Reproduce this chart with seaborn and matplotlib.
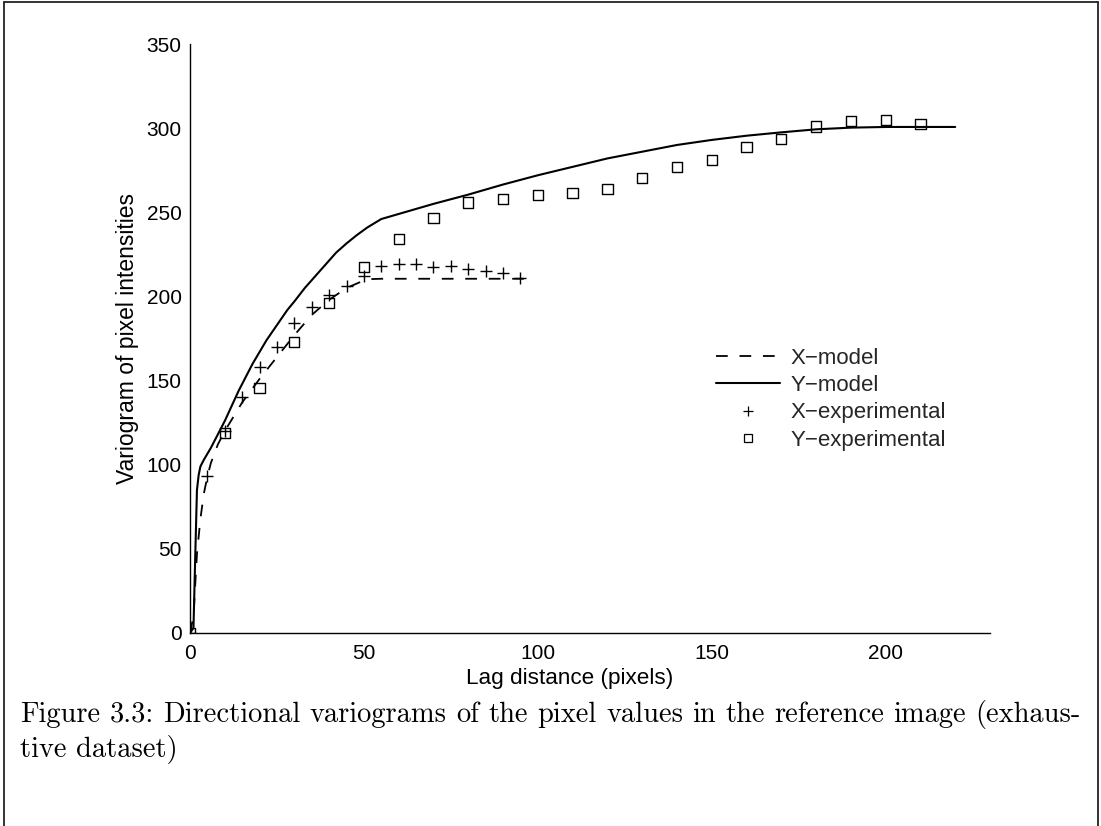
import matplotlib
matplotlib.use("Agg")
import matplotlib.pyplot as plt
from matplotlib.lines import Line2D
import seaborn as sns
import pandas as pd

# Experimental variogram values
lag_x_exp = [0, 5, 10, 15, 20, 25, 30, 35, 40, 45, 50, 55, 60, 65, 70, 75, 80, 85, 90, 95]
gamma_x_exp = [0, 93, 120, 140.5, 158, 170, 184, 193.5, 201, 206.3, 212, 217.8, 219.2,
               219.2, 217.4, 218.3, 216.5, 215.2, 213.8, 211]

lag_y_exp = [0, 10, 20, 30, 40, 50, 60, 70, 80, 90, 100, 110, 120, 130, 140, 150, 160,
             170, 180, 190, 200, 210]
gamma_y_exp = [0, 118.7, 145.5, 172.8, 196, 217.4, 234, 246.4, 255.8, 257.8, 260.4, 261.4,
               263.8, 270.5, 276.9, 281, 288.9, 293.5, 301, 304.2, 305, 302.4]

# Fitted variogram models
lag_x_model = [0, 1, 2, 3, 4, 5, 6, 8, 10, 15, 20, 25, 30, 35, 40, 45, 50, 52, 55, 60,
               70, 80, 90, 96]
gamma_x_model = [0, 10, 47, 68, 83, 93, 101, 112, 120, 137, 151, 164, 177, 189, 198, 205,
                 209.5, 210.3, 210.5, 210.5, 210.5, 210.5, 210.5, 210.5]

lag_y_model = [0, 1, 1.5, 2, 2.5, 3, 4, 6, 8, 10, 12, 14, 16, 18, 20, 22, 24, 26, 28, 30,
               33, 36, 39, 42, 45, 48, 51, 53, 55, 60, 70, 80, 90, 100, 110, 120, 130,
               140, 150, 160, 170, 180, 190, 200, 210, 220]
gamma_y_model = [0, 3, 45, 85, 94, 99, 103, 110, 118, 126, 135, 144, 152, 160, 167, 174,
                 180, 186, 192, 197, 205, 212, 219, 226, 231.5, 236.5, 241, 243.5, 246,
                 249, 255, 260.5, 266.5, 272, 277, 282, 286, 290, 293, 295.5, 297.5,
                 299.3, 300.3, 300.7, 300.7, 300.7]

x_ticks = [0, 50, 100, 150, 200]
y_ticks = [0, 50, 100, 150, 200, 250, 300, 350]

sns.set_theme(style="white")
plt.rcParams["font.family"] = ["Liberation Sans", "DejaVu Sans"]

W, H = 1101, 826
fig = plt.figure(figsize=(W / 100, H / 100), dpi=100)
ax = fig.add_axes([190 / W, 1 - 633 / H, 800 / W, 589 / H])

df_xm = pd.DataFrame({"lag": lag_x_model, "gamma": gamma_x_model})
df_ym = pd.DataFrame({"lag": lag_y_model, "gamma": gamma_y_model})
df_xe = pd.DataFrame({"lag": lag_x_exp, "gamma": gamma_x_exp})
df_ye = pd.DataFrame({"lag": lag_y_exp, "gamma": gamma_y_exp})

dash = (0, (6.5, 6.5))
sns.lineplot(data=df_xm, x="lag", y="gamma", ax=ax, color="black", lw=1.3,
             sort=False, estimator=None, linestyle=dash)
sns.lineplot(data=df_ym, x="lag", y="gamma", ax=ax, color="black", lw=1.5,
             sort=False, estimator=None)
sns.scatterplot(data=df_xe, x="lag", y="gamma", ax=ax, marker="+", s=75,
                color="black", linewidth=1.0)
sns.scatterplot(data=df_ye, x="lag", y="gamma", ax=ax, marker="s", s=55,
                facecolor="none", edgecolor="black", linewidth=1.0)

ax.set_xlim(0, 230)
ax.set_ylim(0, 350)
ax.set_xticks(x_ticks)
ax.set_yticks(y_ticks)
for s in ("top", "right"):
    ax.spines[s].set_visible(False)
for s in ("left", "bottom"):
    ax.spines[s].set_color("black")
    ax.spines[s].set_linewidth(1.0)
ax.tick_params(direction="in", length=6, width=1.0, colors="black",
               labelsize=15, pad=6)
ax.tick_params(axis="x", pad=8)

ax.set_xlabel("Lag distance (pixels)", fontsize=16.2, color="black")
ax.set_ylabel("Variogram of pixel intensities", fontsize=16.5, color="black")
ax.xaxis.set_label_coords(0.475, -0.06)
ax.yaxis.set_label_coords(-0.064, 0.5)

handles = [
    Line2D([], [], color="black", lw=1.3, linestyle=dash),
    Line2D([], [], color="black", lw=1.5),
    Line2D([], [], color="black", marker="+", linestyle="none", markersize=7,
           markeredgewidth=0.9),
    Line2D([], [], color="black", marker="s", linestyle="none", markersize=6,
           markerfacecolor="none", markeredgewidth=0.9),
]
labels = ["X\u2212model", "Y\u2212model", "X\u2212experimental", "Y\u2212experimental"]
ax.legend(handles, labels, loc="upper left", bbox_to_anchor=(716 / W, 1 - 348 / H),
          bbox_transform=fig.transFigure, frameon=False, fontsize=16,
          handlelength=2.9, handletextpad=0.45, labelspacing=0.28, borderpad=0,
          borderaxespad=0)

# Page frame around the figure (open at the bottom)
frame_kw = dict(color="#222222", lw=1.3, transform=fig.transFigure)
fig.add_artist(Line2D([4 / W, 4 / W], [0, 1 - 2 / H], **frame_kw))
fig.add_artist(Line2D([1098 / W, 1098 / W], [0, 1 - 2 / H], **frame_kw))
fig.add_artist(Line2D([4 / W, 1098 / W], [1 - 2 / H, 1 - 2 / H], **frame_kw))

# Justified caption
cap_size = 20.5
line1 = ("Figure 3.3: Directional variograms of the pixel values in the reference "
         "image (exhaus-").split(" ")
line2 = "tive dataset)"
fig.canvas.draw()
renderer = fig.canvas.get_renderer()
words = []
for w in line1:
    t = fig.text(0, 0, w, fontsize=cap_size, family="cmr10", color="black")
    words.append(t)
widths = [t.get_window_extent(renderer).width for t in words]
left, right = 20, 1081
gap = (right - left - sum(widths)) / (len(words) - 1)
x = left
for t, wd in zip(words, widths):
    t.set_position((x / W, 1 - 722 / H))
    t.set_va("baseline")
    x += wd + gap
fig.text(left / W, 1 - 757 / H, line2, fontsize=cap_size, family="cmr10",
         color="black", va="baseline")

fig.savefig("out.png", dpi=100, facecolor="white")
